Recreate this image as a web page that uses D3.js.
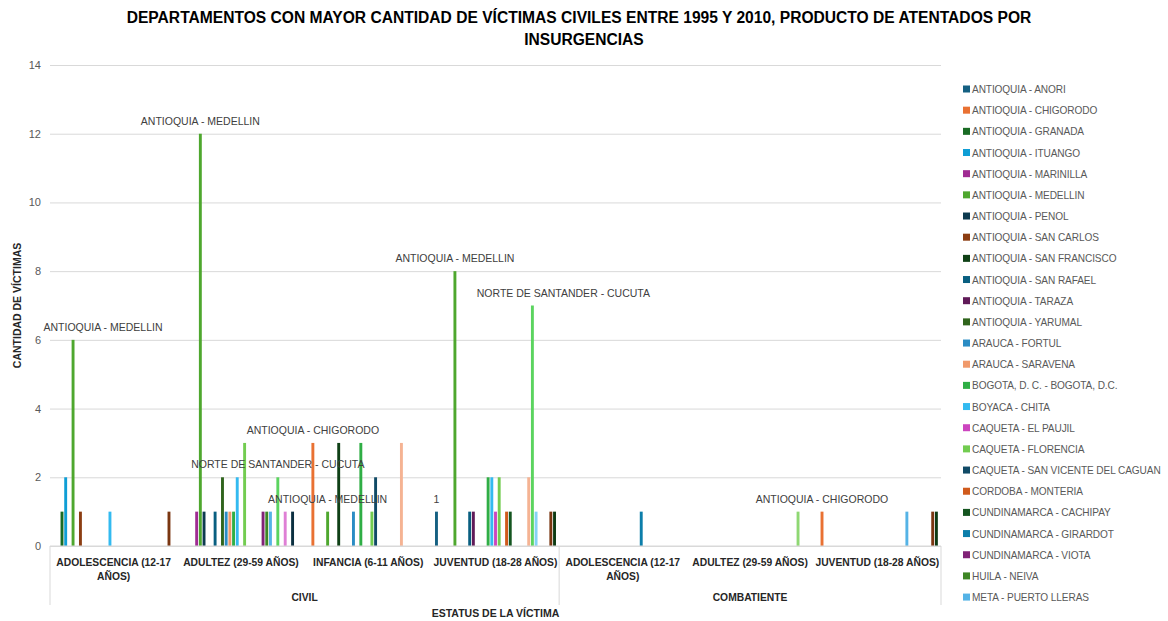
<!DOCTYPE html>
<html lang="es">
<head>
<meta charset="utf-8">
<title>Víctimas civiles 1995 - 2010</title>
<script src="https://cdn.jsdelivr.net/npm/d3@7"></script>
<style>
  body { margin: 0; background: #fff; }
  svg { display: block; font-family: "Liberation Sans", Arial, sans-serif; }
</style>
</head>
<body>
<div id="chart"></div>
<script>
// Categorias (dos niveles: estatus / grupo de edad)
const estatus = ["CIVIL", "COMBATIENTE"];
const edadesCivil = ["ADOLESCENCIA (12-17 AÑOS)", "ADULTEZ (29-59 AÑOS)", "INFANCIA (6-11 AÑOS)", "JUVENTUD (18-28 AÑOS)"];
const edadesCombatiente = ["ADOLESCENCIA (12-17 AÑOS)", "ADULTEZ (29-59 AÑOS)", "JUVENTUD (18-28 AÑOS)"];

// Series (municipios). La leyenda original solo deja ver las 25 primeras
const municipios = [
  "ANTIOQUIA - ANORI", "ANTIOQUIA - CHIGORODO", "ANTIOQUIA - GRANADA", "ANTIOQUIA - ITUANGO",
  "ANTIOQUIA - MARINILLA", "ANTIOQUIA - MEDELLIN", "ANTIOQUIA - PENOL", "ANTIOQUIA - SAN CARLOS",
  "ANTIOQUIA - SAN FRANCISCO", "ANTIOQUIA - SAN RAFAEL", "ANTIOQUIA - TARAZA", "ANTIOQUIA - YARUMAL",
  "ARAUCA - FORTUL", "ARAUCA - SARAVENA", "BOGOTA, D. C. - BOGOTA, D.C.", "BOYACA - CHITA",
  "CAQUETA - EL PAUJIL", "CAQUETA - FLORENCIA", "CAQUETA - SAN VICENTE DEL CAGUAN", "CORDOBA - MONTERIA",
  "CUNDINAMARCA - CACHIPAY", "CUNDINAMARCA - GIRARDOT", "CUNDINAMARCA - VIOTA", "HUILA - NEIVA",
  "META - PUERTO LLERAS", "META - VILLAVICENCIO", "NORTE DE SANTANDER - CUCUTA", "PUTUMAYO - PUERTO ASIS",
  "QUINDIO - ARMENIA", "RISARALDA - PEREIRA", "SANTANDER - BUCARAMANGA", "TOLIMA - IBAGUE",
  "VALLE DEL CAUCA - CALI"
];
const colores = [
  "#156082", "#e97132", "#196b24", "#0f9ed5", "#a02b93", "#4ea72e",
  "#0d3a4f", "#8c3d12", "#0f4016", "#095f80", "#601a58", "#2f641c",
  "#2a8cc4", "#f0996b", "#2fae45", "#33baf0", "#cc45bf", "#72cc50",
  "#104a66", "#d05a1c", "#145520", "#0c7eaa", "#802276", "#3e8625",
  "#55b3e6", "#f5b393", "#5bd45f", "#85d3f5", "#df7fd5", "#8fd873",
  "#0b2f40", "#7a3611", "#0d3a13"
];

// Cantidad de victimas por categoria (una posicion por municipio, 0 = sin dato)
const civilAdolescencia = [0,0,1,2,0,6,0,1,0,0,0,  0,0,0,0,1,0,0,0,0,0,0,  0,0,0,0,0,0,0,0,0,1,0];
const civilAdultez      = [0,0,0,0,1,12,1,0,0,1,0, 2,1,1,1,2,0,3,0,0,0,0,  1,1,1,0,2,0,1,0,1,0,0];
const civilInfancia     = [0,3,0,0,0,1,0,0,3,0,0,  0,1,0,3,0,0,1,2,0,0,0,  0,0,0,3,0,0,0,0,0,0,0];
const civilJuventud     = [1,0,0,0,0,8,0,0,0,1,1,  0,0,0,2,2,1,2,0,1,1,0,  0,0,0,2,7,1,0,0,0,1,1];
const combAdolescencia  = [0,0,0,0,0,0,0,0,0,0,0,  0,0,0,0,0,0,0,0,0,0,1,  0,0,0,0,0,0,0,0,0,0,0];
const combAdultez       = [0,0,0,0,0,0,0,0,0,0,0,  0,0,0,0,0,0,0,0,0,0,0,  0,0,0,0,0,0,0,1,0,0,0];
const combJuventud      = [0,1,0,0,0,0,0,0,0,0,0,  0,0,0,0,0,0,0,0,0,0,0,  0,0,1,0,0,0,0,0,0,1,1];

const yTicks = [0, 2, 4, 6, 8, 10, 12, 14];

// Etiquetas de datos visibles (categoria, municipio, texto)
const etiquetas = [
  {cat: 0, mun: "ANTIOQUIA - MEDELLIN", texto: "ANTIOQUIA - MEDELLIN", dx: 30},
  {cat: 1, mun: "ANTIOQUIA - MEDELLIN", texto: "ANTIOQUIA - MEDELLIN", dx: 0},
  {cat: 1, mun: "NORTE DE SANTANDER - CUCUTA", texto: "NORTE DE SANTANDER - CUCUTA", dx: 0},
  {cat: 2, mun: "ANTIOQUIA - CHIGORODO", texto: "ANTIOQUIA - CHIGORODO", dx: 0},
  {cat: 2, mun: "ANTIOQUIA - MEDELLIN", texto: "ANTIOQUIA - MEDELLIN", dx: 0},
  {cat: 3, mun: "ANTIOQUIA - ANORI", texto: "1", dx: 0},
  {cat: 3, mun: "ANTIOQUIA - MEDELLIN", texto: "ANTIOQUIA - MEDELLIN", dx: 0},
  {cat: 3, mun: "NORTE DE SANTANDER - CUCUTA", texto: "NORTE DE SANTANDER - CUCUTA", dx: 31},
  {cat: 6, mun: "ANTIOQUIA - CHIGORODO", texto: "ANTIOQUIA - CHIGORODO", dx: 0}
];

// Tabla de categorias construida a partir de los arreglos
const categorias = [
  ...edadesCivil.map(e => ({estatus: estatus[0], edad: e})),
  ...edadesCombatiente.map(e => ({estatus: estatus[1], edad: e}))
];
const valores = [civilAdolescencia, civilAdultez, civilInfancia, civilJuventud,
                 combAdolescencia, combAdultez, combJuventud];

const width = 1168;
const height = 621;
const margeG = 50, margeD = 941, margeH = 65, margeB = 546;

const svg = d3.select("#chart")
    .append("svg")
    .attr("width", width)
    .attr("height", height);

// Titulo
svg.append("text")
    .attr("text-anchor", "middle")
    .attr("font-weight", "bold")
    .attr("font-size", 15.6)
    .attr("fill", "#000")
    .selectAll("tspan")
    .data(["DEPARTAMENTOS CON MAYOR CANTIDAD DE VÍCTIMAS CIVILES ENTRE 1995 Y 2010, PRODUCTO DE ATENTADOS POR", "INSURGENCIAS"])
    .join("tspan")
    .attr("x", (d, i) => i === 0 ? 579 : 584)
    .attr("y", (d, i) => 23 + i * 22)
    .text(d => d);

// Escalas
const x0 = d3.scaleBand()
    .domain(d3.range(categorias.length))
    .range([margeG, margeD]);

const x1 = d3.scaleBand()
    .domain(municipios)
    .range([0, x0.bandwidth()])
    .paddingInner(0)
    .paddingOuter(0.75);

const y = d3.scaleLinear()
    .domain([0, 14])
    .range([margeB, margeH]);

const color = d3.scaleOrdinal()
    .domain(municipios)
    .range(colores);

// Lineas de cuadricula + eje Y
svg.append("g")
    .attr("transform", `translate(${margeG},0)`)
    .call(d3.axisLeft(y).tickValues(yTicks).tickSize(-(margeD - margeG)).tickPadding(9))
    .call(g => g.select(".domain").remove())
    .call(g => g.selectAll(".tick line").attr("stroke", "#d9d9d9"))
    .call(g => g.selectAll(".tick text")
        .attr("fill", "#595959")
        .attr("font-size", 11)
        .attr("font-family", "Liberation Sans, Arial, sans-serif"));

// Barras
const barW = 2.9;
categorias.forEach((c, ci) => {
    const puntos = municipios.map((m, si) => ({mun: m, v: valores[ci][si]})).filter(d => d.v > 0);
    svg.append("g")
        .selectAll("rect")
        .data(puntos)
        .join("rect")
        .attr("x", d => x0(ci) + x1(d.mun) + (x1.step() - barW) / 2)
        .attr("y", d => y(d.v))
        .attr("width", barW)
        .attr("height", d => y(0) - y(d.v))
        .attr("fill", d => color(d.mun));
});

// Etiquetas de datos
svg.append("g")
    .selectAll("text")
    .data(etiquetas)
    .join("text")
    .attr("x", d => x0(d.cat) + x1(d.mun) + x1.step() / 2 + d.dx)
    .attr("y", d => y(valores[d.cat][municipios.indexOf(d.mun)]) - 9)
    .attr("text-anchor", "middle")
    .attr("font-size", 10.5)
    .attr("fill", "#404040")
    .text(d => d.texto);

// Eje de categorias (dos niveles)
const ejeX = svg.append("g").attr("stroke", "#d9d9d9");
ejeX.append("line")
    .attr("x1", margeG).attr("x2", margeD)
    .attr("y1", margeB).attr("y2", margeB);

const limites = [margeG, x0(edadesCivil.length), margeD];
ejeX.selectAll("line.sep")
    .data(limites)
    .join("line")
    .attr("class", "sep")
    .attr("x1", d => d).attr("x2", d => d)
    .attr("y1", margeB).attr("y2", 605);

// Texto de categorias con salto de linea
function partir(texto, ancho, nodo) {
    const palabras = texto.split(" ");
    const lineas = [];
    let actual = "";
    palabras.forEach(p => {
        const prueba = actual ? actual + " " + p : p;
        nodo.text(prueba);
        if (nodo.node().getComputedTextLength() > ancho && actual) {
            lineas.push(actual);
            actual = p;
        } else {
            actual = prueba;
        }
    });
    lineas.push(actual);
    return lineas;
}

const etiqCat = svg.append("g")
    .attr("font-size", 10.3)
    .attr("font-weight", "bold")
    .attr("fill", "#262626")
    .attr("text-anchor", "middle");

categorias.forEach((c, ci) => {
    const t = etiqCat.append("text")
        .attr("x", x0(ci) + x0.bandwidth() / 2)
        .attr("y", 566);
    const lineas = partir(c.edad, x0.bandwidth(), t);
    t.text(null);
    t.selectAll("tspan")
        .data(lineas)
        .join("tspan")
        .attr("x", x0(ci) + x0.bandwidth() / 2)
        .attr("dy", (d, i) => i === 0 ? 0 : 14)
        .text(d => d);
});

estatus.forEach((e, i) => {
    etiqCat.append("text")
        .attr("x", (limites[i] + limites[i + 1]) / 2)
        .attr("y", 601)
        .text(e);
});

// Titulos de ejes
svg.append("text")
    .attr("x", (margeG + margeD) / 2)
    .attr("y", 617)
    .attr("text-anchor", "middle")
    .attr("font-size", 10.5)
    .attr("font-weight", "bold")
    .attr("fill", "#262626")
    .text("ESTATUS DE LA VÍCTIMA");

svg.append("text")
    .attr("transform", `translate(21,${(margeH + margeB) / 2}) rotate(-90)`)
    .attr("text-anchor", "middle")
    .attr("font-size", 10.5)
    .attr("font-weight", "bold")
    .attr("fill", "#262626")
    .text("CANTIDAD DE VÍCTIMAS");

// Leyenda (solo caben 25 entradas, como en el original)
const paso = 21.17;
const visibles = municipios.filter((m, i) => 89 + i * paso < 605);
const leyenda = svg.append("g")
    .selectAll("g")
    .data(visibles)
    .join("g")
    .attr("transform", (d, i) => `translate(963,${89 + i * paso})`);

leyenda.append("rect")
    .attr("x", 0).attr("y", -3.5)
    .attr("width", 7).attr("height", 7)
    .attr("fill", d => color(d));

leyenda.append("text")
    .attr("x", 9)
    .attr("y", 4)
    .attr("font-size", 10.1)
    .attr("letter-spacing", -0.1)
    .attr("fill", "#595959")
    .text(d => d);
</script>
</body>
</html>
